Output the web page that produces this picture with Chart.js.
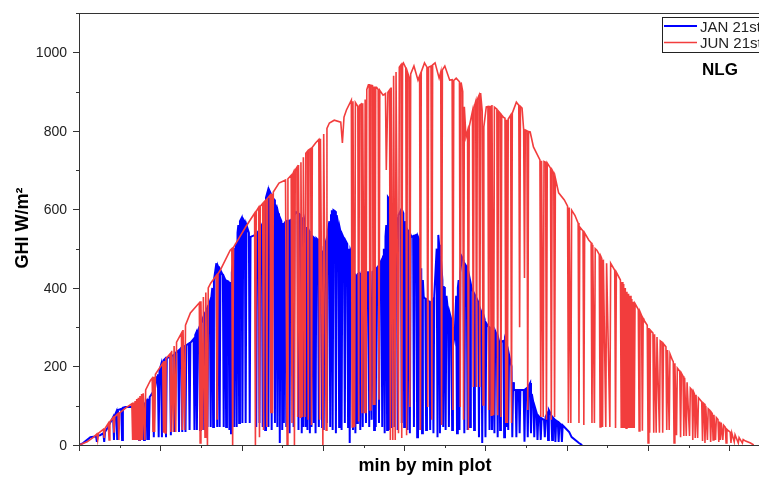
<!DOCTYPE html>
<html>
<head>
<meta charset="utf-8">
<script src="https://cdn.jsdelivr.net/npm/chart.js@4.4.1/dist/chart.umd.min.js"></script>
<style>
  html, body { margin: 0; padding: 0; overflow: hidden; background: #fff; }
  #wrap { width: 770px; height: 477px; }
</style>
</head>
<body>
<div id="wrap"><canvas id="ghiChart" width="770" height="477"></canvas></div>
<script>
// JUN 21st, minute index / GHI (W/m2)
const junMinutes = [
  0, 10, 18, 22, 23, 24, 30, 31, 32, 36,
  37, 38, 42, 43, 44, 48, 49, 50, 58, 65,
  66, 67, 68, 69, 70, 71, 72, 73, 74, 75,
  76, 77, 78, 79, 81, 82, 88, 90, 91, 92,
  93, 94, 100, 103, 104, 105, 106, 107, 112, 113,
  114, 116, 117, 119, 120, 126, 127, 128, 130, 131,
  137, 148, 149, 150, 152, 153, 155, 156, 158, 159,
  162, 169, 170, 171, 174, 186, 188, 189, 190, 205,
  216, 217, 218, 221, 222, 223, 226, 227, 228, 230,
  231, 232, 235, 236, 237, 238, 239, 246, 254, 256,
  257, 261, 262, 263, 264, 265, 266, 268, 269, 270,
  272, 273, 275, 276, 278, 279, 281, 282, 283, 285,
  286, 287, 291, 295, 296, 297, 300, 301, 304, 305,
  308, 314, 322, 324, 326, 329, 335, 336, 337, 339,
  340, 343, 344, 345, 347, 348, 349, 351, 352, 353,
  354, 356, 357, 358, 359, 361, 362, 363, 364, 365,
  366, 368, 369, 370, 374, 377, 378, 380, 382, 383,
  384, 386, 387, 389, 390, 393, 394, 396, 397, 398,
  399, 402, 403, 404, 406, 407, 408, 412, 417, 419,
  420, 421, 425, 428, 429, 430, 433, 434, 435, 438,
  443, 445, 446, 447, 450, 456, 459, 460, 461, 464,
  468, 469, 470, 472, 473, 474, 476, 478, 479, 480,
  484, 485, 486, 488, 489, 490, 492, 493, 494, 496,
  497, 498, 501, 503, 504, 505, 506, 507, 508, 510,
  511, 514, 515, 516, 518, 519, 520, 522, 524, 525,
  526, 527, 528, 531, 532, 533, 538, 541, 542, 543,
  545, 547, 548, 549, 551, 552, 553, 555, 559, 567,
  568, 569, 571, 572, 574, 575, 576, 580, 581, 582,
  584, 585, 586, 590, 597, 601, 602, 603, 605, 606,
  610, 614, 615, 616, 620, 621, 622, 627, 630, 631,
  632, 634, 635, 637, 640, 641, 642, 643, 644, 645,
  648, 649, 653, 654, 659, 660, 661, 666, 667, 668,
  669, 670, 671, 672, 673, 674, 675, 676, 677, 678,
  679, 680, 681, 682, 683, 684, 688, 689, 690, 692,
  693, 694, 695, 699, 700, 701, 702, 703, 706, 707,
  708, 710, 711, 714, 715, 717, 718, 719, 720, 722,
  723, 724, 726, 727, 730, 731, 732, 733, 735, 736,
  739, 740, 741, 743, 744, 745, 747, 748, 751, 752,
  754, 755, 756, 757, 758, 759, 761, 762, 764, 766,
  767, 768, 769, 770, 771, 773, 774, 776, 777, 778,
  779, 780, 781, 783, 784, 786, 787, 788, 789, 790,
  792, 793, 795, 796, 797, 798, 801, 802, 803, 806,
  807, 811, 812, 816, 817, 820, 826, 830
];
const junGhi = [
  0, 8, 20, 28, 13, 30, 40, 18, 42, 55,
  13, 60, 70, 31, 72, 80, 13, 82, 95, 105,
  13, 108, 13, 112, 13, 117, 13, 120, 13, 125,
  13, 130, 13, 132, 13, 140, 165, 170, 33, 174,
  33, 180, 199, 208, 31, 214, 31, 220, 232, 33,
  240, 33, 252, 33, 262, 285, 38, 293, 38, 305,
  336, 362, 5, 366, 38, 377, 20, 388, 0, 400,
  412, 432, 64, 436, 446, 496, 500, 0, 503, 555,
  590, 0, 595, 605, 20, 608, 615, 38, 620, 624,
  46, 628, 636, 81, 640, 81, 644, 667, 675, 0,
  678, 687, 56, 690, 695, 0, 700, 707, 71, 713,
  71, 720, 71, 733, 71, 743, 748, 64, 752, 755,
  51, 758, 769, 778, 64, 780, 0, 792, 38, 806,
  820, 827, 822, 769, 835, 853, 878, 46, 875, 46,
  872, 862, 60, 865, 868, 81, 870, 81, 880, 81,
  905, 917, 917, 89, 916, 915, 102, 913, 102, 911,
  911, 905, 115, 903, 891, 895, 700, 898, 904, 13,
  910, 13, 940, 13, 950, 30, 962, 968, 18, 970,
  973, 960, 25, 950, 937, 97, 945, 965, 929, 940,
  38, 950, 973, 962, 97, 962, 965, 64, 968, 973,
  934, 950, 51, 955, 965, 929, 930, 89, 928, 934,
  925, 97, 923, 900, 64, 861, 784, 800, 38, 810,
  850, 148, 860, 875, 148, 880, 890, 148, 896, 850,
  102, 810, 861, 862, 89, 862, 862, 76, 866, 76,
  860, 855, 76, 850, 845, 71, 840, 835, 832, 56,
  828, 56, 830, 840, 56, 845, 873, 865, 300, 862,
  858, 802, 425, 802, 800, 89, 798, 797, 759, 726,
  71, 724, 71, 722, 720, 64, 718, 705, 64, 700,
  692, 71, 680, 642, 624, 608, 56, 605, 56, 598,
  585, 565, 56, 555, 545, 51, 540, 522, 515, 56,
  510, 56, 500, 496, 485, 46, 480, 475, 46, 472,
  46, 463, 46, 463, 445, 43, 440, 420, 43, 415,
  43, 410, 43, 400, 43, 390, 43, 385, 43, 380,
  43, 372, 43, 365, 43, 360, 345, 36, 340, 330,
  36, 322, 318, 305, 5, 298, 31, 292, 285, 31,
  282, 31, 275, 31, 265, 262, 31, 258, 255, 250,
  38, 242, 38, 232, 216, 212, 5, 208, 25, 196,
  188, 20, 183, 175, 23, 171, 23, 160, 23, 145,
  140, 13, 135, 130, 18, 128, 18, 120, 115, 110,
  10, 107, 105, 5, 100, 13, 92, 88, 8, 83,
  80, 13, 77, 13, 70, 65, 8, 60, 13, 57,
  13, 50, 45, 5, 40, 38, 33, 5, 31, 8,
  26, 5, 19, 5, 14, 10, 5, 0
];

// JAN 21st, minute index / GHI (W/m2)
const janMinutes = [
  0, 5, 14, 21, 22, 23, 26, 30, 31, 32,
  35, 42, 43, 44, 46, 47, 48, 52, 53, 54,
  57, 67, 69, 70, 71, 73, 74, 75, 76, 77,
  79, 80, 81, 83, 84, 85, 86, 87, 91, 92,
  93, 96, 97, 98, 99, 101, 102, 103, 104, 106,
  107, 108, 112, 113, 114, 117, 118, 119, 122, 123,
  124, 126, 127, 128, 130, 131, 132, 135, 136, 137,
  141, 142, 143, 144, 145, 146, 148, 149, 150, 153,
  154, 155, 157, 158, 159, 161, 162, 163, 164, 165,
  166, 169, 170, 171, 172, 173, 174, 177, 178, 179,
  180, 181, 182, 184, 185, 186, 187, 188, 190, 191,
  192, 193, 194, 195, 196, 197, 198, 200, 201, 202,
  204, 205, 206, 209, 210, 211, 217, 218, 219, 221,
  222, 223, 225, 226, 227, 229, 230, 232, 233, 234,
  236, 237, 238, 240, 241, 242, 243, 244, 245, 246,
  247, 248, 249, 250, 251, 252, 253, 254, 255, 256,
  258, 259, 260, 261, 263, 264, 265, 267, 269, 270,
  271, 273, 274, 275, 276, 277, 278, 279, 280, 281,
  282, 283, 284, 285, 286, 287, 288, 289, 290, 291,
  292, 294, 295, 296, 298, 299, 300, 301, 302, 304,
  305, 306, 308, 309, 310, 311, 312, 313, 315, 316,
  317, 319, 320, 321, 322, 323, 324, 326, 327, 328,
  330, 331, 332, 333, 334, 335, 336, 337, 338, 339,
  340, 341, 342, 343, 345, 346, 347, 349, 350, 352,
  353, 354, 356, 357, 358, 360, 361, 362, 363, 364,
  365, 366, 368, 369, 370, 372, 373, 374, 375, 376,
  377, 378, 379, 380, 381, 382, 383, 384, 385, 387,
  388, 389, 391, 392, 393, 396, 397, 398, 399, 400,
  401, 403, 404, 405, 406, 407, 408, 409, 411, 412,
  413, 415, 416, 417, 419, 420, 421, 422, 423, 424,
  426, 427, 428, 431, 432, 433, 435, 436, 437, 440,
  441, 442, 443, 444, 445, 447, 448, 449, 450, 451,
  452, 454, 455, 456, 458, 459, 460, 462, 464, 465,
  466, 467, 468, 469, 471, 473, 474, 475, 477, 478,
  479, 480, 481, 482, 483, 485, 486, 487, 489, 491,
  492, 493, 495, 496, 497, 499, 500, 501, 504, 505,
  506, 507, 508, 510, 511, 512, 514, 515, 516, 517,
  518, 519, 522, 523, 524, 525, 526, 527, 528, 529,
  532, 533, 534, 535, 537, 538, 539, 541, 542, 543,
  545, 547, 548, 549, 551, 552, 553, 555, 556, 557,
  559, 560, 561, 563, 564, 565, 567, 568, 569, 572,
  573, 574, 576, 577, 578, 579, 581, 582, 583, 585,
  586, 587, 589, 590, 591, 593, 594, 595, 597, 603,
  606, 615, 619
];
const janGhi = [
  0, 5, 20, 22, 8, 24, 25, 30, 8, 33,
  43, 71, 13, 75, 85, 13, 89, 92, 13, 95,
  97, 97, 95, 13, 93, 90, 13, 95, 13, 97,
  100, 13, 105, 112, 13, 118, 13, 122, 135, 20,
  140, 173, 180, 20, 190, 205, 20, 208, 216, 220,
  20, 222, 224, 25, 226, 230, 33, 235, 240, 33,
  243, 248, 33, 250, 252, 33, 254, 258, 38, 260,
  270, 38, 280, 285, 38, 290, 300, 38, 310, 326,
  38, 335, 345, 46, 352, 365, 46, 380, 400, 46,
  420, 463, 46, 455, 450, 46, 445, 432, 46, 425,
  420, 46, 418, 416, 38, 415, 30, 440, 470, 46,
  500, 514, 46, 540, 560, 56, 570, 578, 56, 575,
  568, 56, 560, 540, 56, 530, 535, 46, 540, 545,
  56, 550, 560, 46, 616, 38, 630, 645, 46, 649,
  640, 38, 631, 625, 56, 612, 600, 46, 590, 580,
  5, 575, 570, 38, 565, 56, 566, 568, 46, 570,
  571, 30, 572, 573, 580, 46, 585, 593, 590, 38,
  588, 585, 30, 580, 46, 575, 565, 46, 555, 38,
  550, 545, 30, 535, 46, 532, 530, 56, 528, 30,
  526, 522, 46, 515, 505, 46, 495, 38, 505, 520,
  56, 545, 570, 46, 585, 598, 38, 598, 595, 30,
  585, 560, 46, 550, 540, 38, 535, 525, 56, 520,
  512, 46, 500, 5, 495, 489, 470, 38, 433, 434,
  30, 435, 56, 436, 438, 38, 438, 46, 438, 440,
  56, 440, 440, 46, 440, 64, 441, 442, 38, 445,
  46, 450, 455, 56, 462, 470, 46, 480, 500, 30,
  530, 560, 38, 631, 628, 38, 620, 46, 600, 555,
  46, 570, 575, 38, 585, 598, 56, 595, 590, 46,
  570, 547, 38, 545, 542, 30, 535, 530, 532, 46,
  533, 535, 20, 530, 520, 38, 450, 30, 420, 377,
  372, 38, 370, 365, 38, 364, 370, 30, 380, 500,
  20, 535, 510, 30, 480, 420, 46, 402, 400, 38,
  380, 340, 46, 336, 320, 38, 300, 275, 380, 30,
  400, 420, 38, 440, 479, 470, 30, 460, 453, 38,
  440, 430, 46, 410, 400, 390, 38, 382, 374, 365,
  20, 350, 339, 5, 335, 320, 20, 310, 300, 38,
  298, 296, 38, 293, 30, 290, 280, 20, 270, 262,
  38, 263, 265, 20, 267, 260, 46, 250, 38, 230,
  200, 20, 160, 140, 140, 20, 140, 140, 30, 140,
  140, 140, 8, 142, 145, 20, 150, 158, 30, 130,
  107, 20, 95, 81, 13, 75, 70, 13, 68, 64,
  20, 72, 80, 13, 89, 85, 75, 13, 70, 65,
  8, 62, 59, 8, 56, 52, 8, 50, 46, 33,
  20, 5, 0
];

// axis ticks
const yTickLabels = [0, 200, 400, 600, 800, 1000];
const yMinorTicks = [100, 300, 500, 700, 900, 1100];
const xMajorTicks = [0, 100, 200, 300, 400, 500, 600, 700, 800];
const xMinorTicks = [50, 150, 250, 350, 450, 550, 650, 750, 850];

const FONT = "'Liberation Sans', Arial, sans-serif";
const JAN_COLOR = "#0000ff";
const JUN_COLOR = "#f23d3d";

function toPoints(xs, ys) {
  return xs.map((x, i) => ({ x: x, y: ys[i] }));
}

const decorPlugin = {
  id: "decor",
  afterDraw(chart) {
    const ctx = chart.ctx;
    const area = chart.chartArea;
    const xs = chart.scales.x;
    const ys = chart.scales.y;
    ctx.save();

    // frame
    ctx.strokeStyle = "#333";
    ctx.lineWidth = 1;
    ctx.strokeRect(area.left + 0.5, area.top + 0.5, area.right - area.left, area.bottom - area.top);

    // ticks
    ctx.beginPath();
    xMajorTicks.forEach((v) => {
      const px = Math.round(xs.getPixelForValue(v)) + 0.5;
      ctx.moveTo(px, area.bottom);
      ctx.lineTo(px, area.bottom + 6);
    });
    xMinorTicks.forEach((v) => {
      const px = Math.round(xs.getPixelForValue(v)) + 0.5;
      ctx.moveTo(px, area.bottom);
      ctx.lineTo(px, area.bottom + 3);
    });
    yTickLabels.forEach((v) => {
      const py = Math.round(ys.getPixelForValue(v)) + 0.5;
      ctx.moveTo(area.left, py);
      ctx.lineTo(area.left - 6, py);
    });
    yMinorTicks.forEach((v) => {
      const py = Math.round(ys.getPixelForValue(v)) + 0.5;
      ctx.moveTo(area.left, py);
      ctx.lineTo(area.left - 3, py);
    });
    ctx.stroke();

    // y tick labels
    ctx.fillStyle = "#222";
    ctx.font = "14px " + FONT;
    ctx.textAlign = "right";
    ctx.textBaseline = "middle";
    yTickLabels.forEach((v) => {
      ctx.fillText(String(v), area.left - 12, ys.getPixelForValue(v) + 1);
    });

    // axis titles
    ctx.fillStyle = "#000";
    ctx.font = "bold 18px " + FONT;
    ctx.textAlign = "center";
    ctx.textBaseline = "alphabetic";
    ctx.fillText("min by min plot", 425, 471);
    ctx.save();
    ctx.translate(28, 228);
    ctx.rotate(-Math.PI / 2);
    ctx.fillText("GHI W/m\u00b2", 0, 0);
    ctx.restore();

    // legend
    ctx.strokeStyle = "#222";
    ctx.lineWidth = 1;
    ctx.strokeRect(662.5, 17.5, 104, 35);
    ctx.lineWidth = 2;
    ctx.strokeStyle = JAN_COLOR;
    ctx.beginPath();
    ctx.moveTo(664, 26);
    ctx.lineTo(697, 26);
    ctx.stroke();
    ctx.lineWidth = 1.5;
    ctx.strokeStyle = JUN_COLOR;
    ctx.beginPath();
    ctx.moveTo(664, 42.5);
    ctx.lineTo(697, 42.5);
    ctx.stroke();
    ctx.fillStyle = "#222";
    ctx.font = "15px " + FONT;
    ctx.textAlign = "left";
    ctx.fillText(chart.data.datasets[1].label, 700, 32);
    ctx.fillText(chart.data.datasets[0].label, 700, 48);

    ctx.fillStyle = "#000";
    ctx.font = "bold 17px " + FONT;
    ctx.fillText("NLG", 702, 75);

    ctx.restore();
  },
};

new Chart(document.getElementById("ghiChart"), {
  type: "line",
  data: {
    datasets: [
      {
        label: "JUN 21st",
        data: toPoints(junMinutes, junGhi),
        borderColor: JUN_COLOR,
        borderWidth: 1.6,
        pointRadius: 0,
        tension: 0,
        order: 0,
      },
      {
        label: "JAN 21st",
        data: toPoints(janMinutes, janGhi),
        borderColor: JAN_COLOR,
        borderWidth: 2,
        pointRadius: 0,
        tension: 0,
        order: 1,
      },
    ],
  },
  options: {
    responsive: false,
    animation: false,
    layout: { padding: { top: 13, right: 0, bottom: 0, left: 0 } },
    scales: {
      x: {
        type: "linear",
        min: 0,
        max: 850,
        ticks: { display: false },
        grid: { display: false },
        border: { display: false },
        afterFit: (scale) => { scale.height = 32; },
      },
      y: {
        min: 0,
        max: 1100,
        ticks: { display: false },
        grid: { display: false },
        border: { display: false },
        afterFit: (scale) => { scale.width = 79; },
      },
    },
    plugins: {
      legend: { display: false },
      tooltip: { enabled: false },
    },
  },
  plugins: [decorPlugin],
});
</script>
</body>
</html>
